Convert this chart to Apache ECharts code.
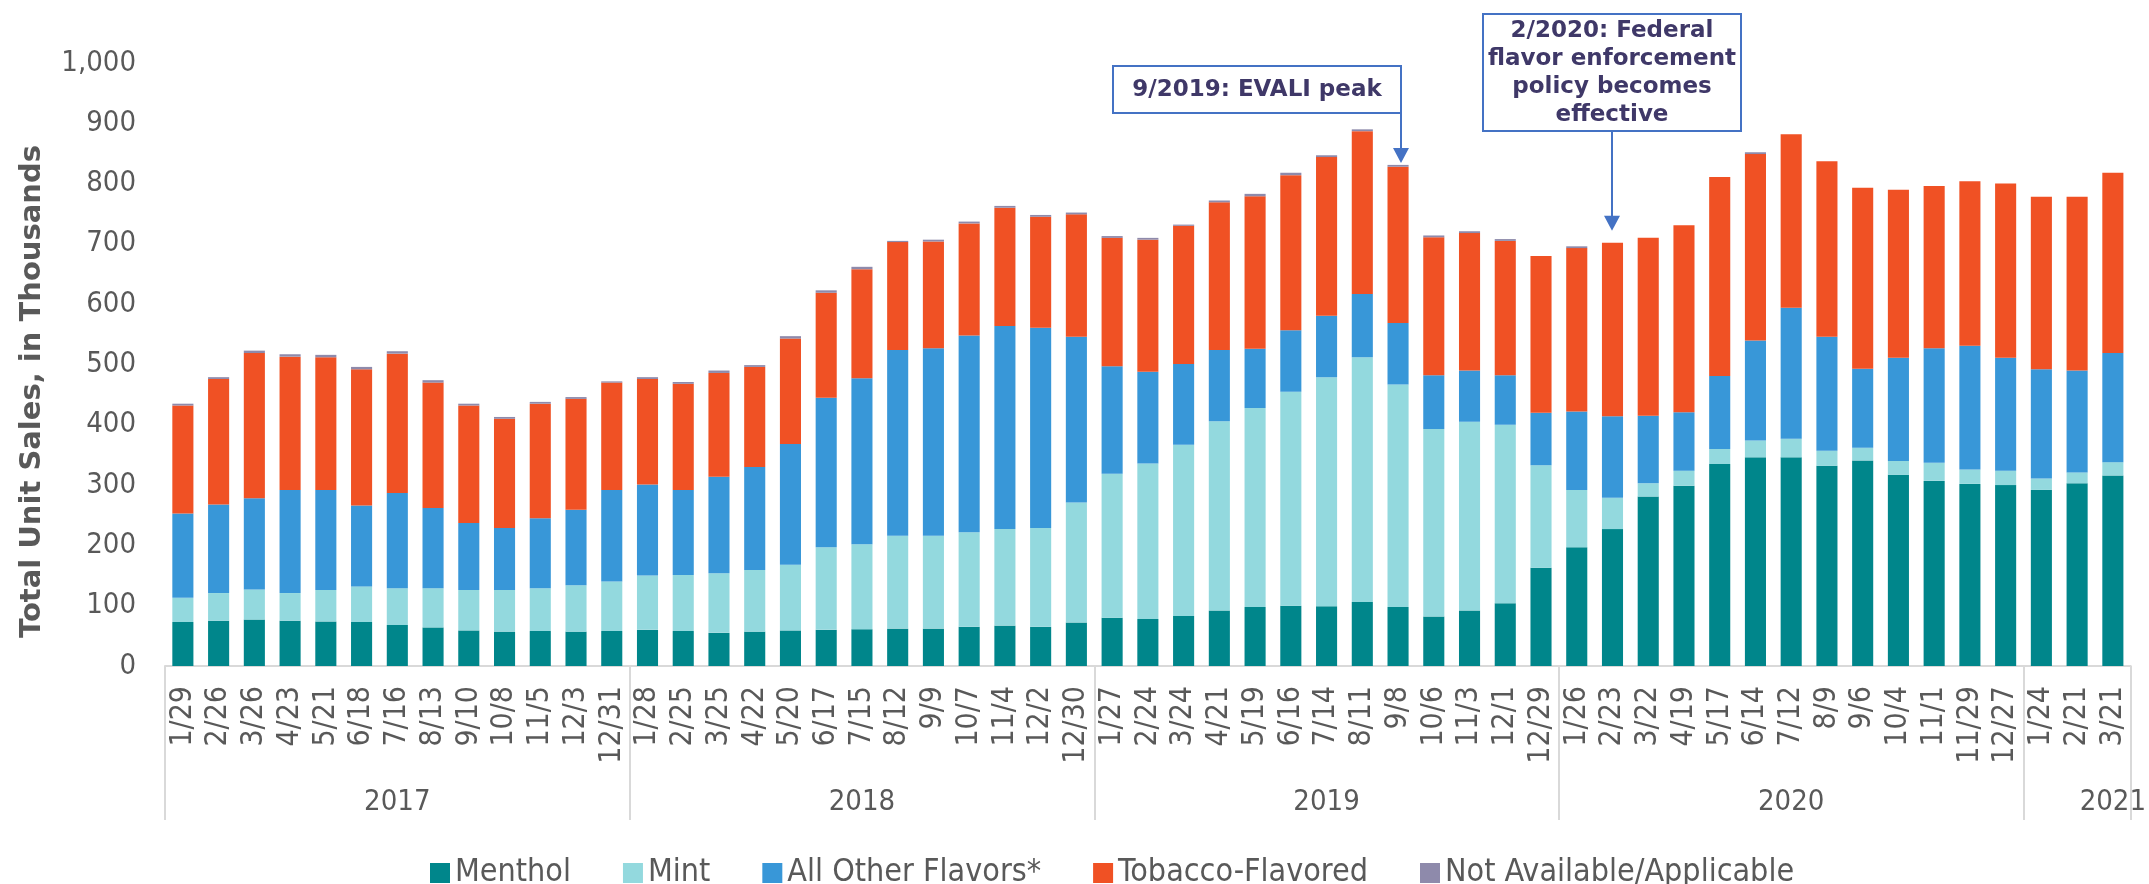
<!DOCTYPE html>
<html>
<head>
<meta charset="utf-8">
<title>E-cigarette unit sales by flavor</title>
<script src="https://cdn.jsdelivr.net/npm/echarts@6/dist/echarts.min.js"></script>
<style>
  html, body { margin: 0; padding: 0; background: #fff; }
  #chart { width: 2149px; height: 884px; }
</style>
</head>
<body>
<div id="chart"></div>
<script>
// 4-week periods, grouped by year
const years = ['2017', '2018', '2019', '2020', '2021']
const periods = [
  ['1/29', '2/26', '3/26', '4/23', '5/21', '6/18', '7/16', '8/13', '9/10', '10/8', '11/5', '12/3', '12/31'],
  ['1/28', '2/25', '3/25', '4/22', '5/20', '6/17', '7/15', '8/12', '9/9', '10/7', '11/4', '12/2', '12/30'],
  ['1/27', '2/24', '3/24', '4/21', '5/19', '6/16', '7/14', '8/11', '9/8', '10/6', '11/3', '12/1', '12/29'],
  ['1/26', '2/23', '3/22', '4/19', '5/17', '6/14', '7/12', '8/9', '9/6', '10/4', '11/1', '11/29', '12/27'],
  ['1/24', '2/21', '3/21']
]

// unit sales, thousands
const menthol = [73, 75, 77, 75, 74, 73, 68, 64, 59, 57, 58, 57, 58,
  60, 58, 55, 57, 59, 60, 61, 62, 62, 65, 67, 65, 72,
  80, 78, 83, 92, 98, 100, 99, 106, 98, 82, 92, 104, 163,
  197, 227, 281, 299, 335, 346, 346, 332, 341, 317, 307, 302, 300,
  292, 303, 316]
const mint = [40, 46, 50, 46, 52, 59, 61, 65, 67, 69, 71, 77, 82,
  90, 93, 99, 102, 109, 137, 141, 154, 154, 157, 160, 164, 199,
  239, 258, 284, 314, 330, 355, 380, 406, 369, 311, 313, 296, 170,
  95, 52, 22, 25, 25, 28, 31, 25, 21, 23, 30, 24, 24,
  19, 18, 22]
const otherFlavors = [140, 147, 151, 171, 166, 134, 158, 133, 111, 103, 116, 125, 152,
  151, 141, 160, 171, 200, 248, 275, 308, 311, 326, 337, 332, 275,
  178, 152, 134, 118, 98, 102, 102, 105, 102, 89, 85, 82, 87,
  130, 135, 112, 97, 121, 166, 217, 189, 131, 171, 190, 205, 187,
  181, 169, 181]
const tobacco = [179, 208, 241, 221, 220, 226, 231, 208, 195, 181, 190, 184, 178,
  175, 176, 172, 166, 175, 174, 181, 179, 177, 186, 196, 184, 203,
  213, 219, 229, 245, 253, 257, 263, 270, 259, 229, 228, 223, 260,
  271, 288, 295, 310, 330, 309, 288, 291, 300, 279, 269, 273, 289,
  286, 288, 299]
const notAvailable = [3, 3, 4, 4, 4, 4, 4, 4, 3, 3, 3, 3, 2,
  3, 3, 4, 3, 4, 4, 4, 2, 3, 3, 3, 3, 3,
  3, 3, 2, 3, 4, 4, 3, 3, 3, 3, 3, 3, 0,
  3, 0, 0, 0, 0, 3, 0, 0, 0, 0, 0, 0, 0,
  0, 0, 0]

const seriesNames = ['Menthol', 'Mint', 'All Other Flavors*', 'Tobacco-Flavored', 'Not Available/Applicable']
const seriesColors = ['#00868b', '#93d9de', '#3897d8', '#f05124', '#8e8aab']

// annotations: [year index, period index, text]
const notes = [
  [2, 8, '9/2019: EVALI peak'],
  [3, 1, '2/2020: Federal\nflavor enforcement\npolicy becomes\neffective']
]

const font = "'DejaVu Sans Condensed', 'Liberation Sans', sans-serif"
const boldFont = "'DejaVu Sans', sans-serif"
const grey = '#595959'

let categories = []
periods.forEach(function (list) {
  list.forEach(function (p) {
    categories.push(p)
  })
})

// group boundaries and where each year label sits
let groupStart = []
let yearLabelAt = {}
let pos = 0
periods.forEach(function (list, y) {
  groupStart.push(pos)
  let mid = list.length > 3 ? pos + Math.floor(list.length / 2) : pos + list.length - 1
  yearLabelAt[mid] = years[y]
  pos += list.length
})

const values = [menthol, mint, otherFlavors, tobacco, notAvailable]
let series = seriesNames.map(function (name, i) {
  return {
    name: name,
    type: 'bar',
    stack: 'total',
    data: values[i],
    barCategoryGap: '41%',
    itemStyle: { color: seriesColors[i] }
  }
})

let myChart = echarts.init(document.getElementById('chart'))
myChart.setOption({
  backgroundColor: '#fff',
  animation: false,
  textStyle: { fontFamily: font },
  grid: {
    left: 165,
    right: 13,
    top: 63,
    bottom: 218
  },
  legend: {
    data: seriesNames,
    left: 425,
    top: 852,
    icon: 'rect',
    itemWidth: 20,
    itemHeight: 20,
    itemGap: 52,
    textStyle: {
      color: grey,
      fontSize: 32,
      fontFamily: font
    }
  },
  xAxis: [
    {
      type: 'category',
      data: categories,
      axisLine: {
        lineStyle: { color: '#d9d9d9', width: 2 }
      },
      axisTick: { show: false },
      axisLabel: {
        interval: 0,
        rotate: 90,
        margin: 20,
        color: grey,
        fontSize: 30,
        fontFamily: font
      }
    },
    {
      // year row under the period labels
      type: 'category',
      data: categories,
      position: 'bottom',
      axisLine: { show: false },
      axisTick: {
        show: true,
        length: 154,
        interval: function (index) {
          return groupStart.indexOf(index) >= 0
        },
        lineStyle: { color: '#d9d9d9', width: 2 }
      },
      axisLabel: {
        margin: 122,
        color: grey,
        fontSize: 29,
        fontFamily: font,
        interval: function (index) {
          return yearLabelAt[index] !== undefined
        },
        formatter: function (value, index) {
          return yearLabelAt[index] || ''
        }
      }
    }
  ],
  yAxis: {
    type: 'value',
    min: 0,
    max: 1000,
    interval: 100,
    splitLine: { show: false },
    axisLine: { show: false },
    axisTick: { show: false },
    axisLabel: {
      margin: 29,
      color: grey,
      fontSize: 29,
      fontFamily: font,
      formatter: function (v) {
        return v.toLocaleString('en-US')
      }
    },
    name: 'Total Unit Sales, in Thousands',
    nameLocation: 'middle',
    nameRotate: 90,
    nameGap: 118,
    nameTextStyle: {
      color: grey,
      fontSize: 29,
      fontWeight: 'bold',
      fontFamily: boldFont,
      padding: [0, 54, 0, 0]
    }
  },
  series: series
})

// callout boxes with arrows pointing at the bar tops
function drawNotes () {
  let graphics = []
  notes.forEach(function (n, k) {
    let idx = groupStart[n[0]] + n[1]
    let total = 0
    values.forEach(function (v) { total += v[idx] })
    let p = myChart.convertToPixel({ gridIndex: 0 }, [idx, total])
    let ax, tip, box
    if (k === 0) {
      ax = Math.round(p[0]) + 3
      tip = p[1] - 2
      box = { x: ax - 288, y: 66, width: 288, height: 47 }
    } else {
      ax = Math.round(p[0])
      tip = p[1] - 12
      box = { x: ax - 129, y: 14, width: 258, height: 117 }
    }
    graphics.push({
      type: 'rect',
      shape: box,
      style: { fill: '#fff', stroke: '#4472c4', lineWidth: 2 }
    })
    graphics.push({
      type: 'text',
      style: {
        text: n[2],
        x: box.x + box.width / 2,
        y: box.y + box.height / 2 + 1,
        align: 'center',
        verticalAlign: 'middle',
        fontSize: 23,
        fontWeight: 'bold',
        fontFamily: boldFont,
        lineHeight: 28,
        fill: '#3f3868'
      }
    })
    graphics.push({
      type: 'line',
      shape: { x1: ax, y1: box.y + box.height, x2: ax, y2: tip - 14 },
      style: { stroke: '#4472c4', lineWidth: 2 }
    })
    graphics.push({
      type: 'polygon',
      shape: { points: [[ax - 8, tip - 15], [ax + 8, tip - 15], [ax, tip]] },
      style: { fill: '#4472c4' }
    })
  })
  myChart.setOption({ graphic: graphics })
}
drawNotes()

window.addEventListener('resize', function () {
  myChart.resize()
  drawNotes()
})
</script>
</body>
</html>
